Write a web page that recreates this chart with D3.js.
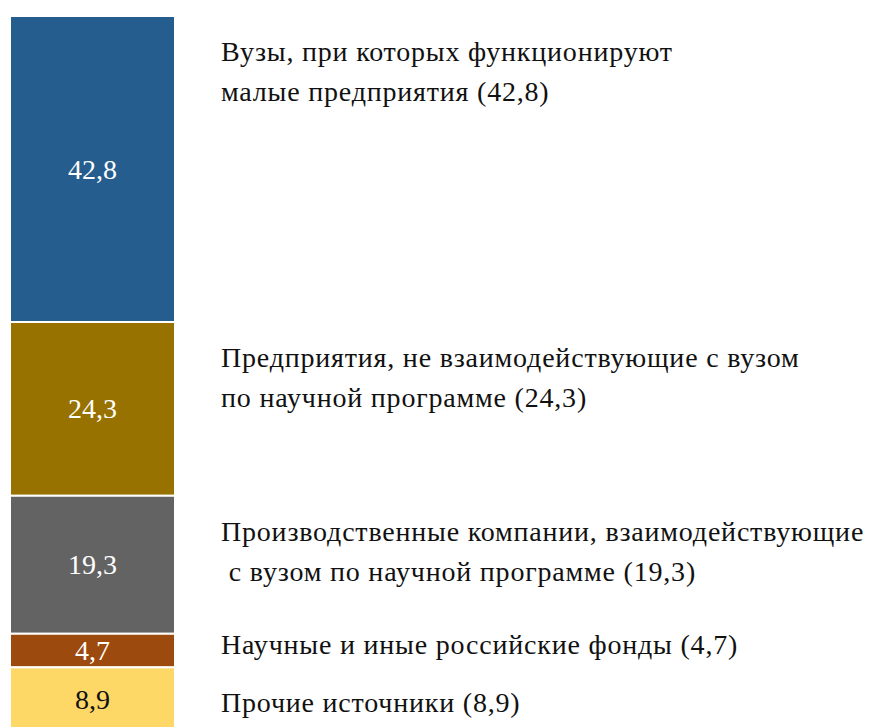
<!DOCTYPE html>
<html>
<head>
<meta charset="utf-8">
<script src="https://cdn.jsdelivr.net/npm/d3@7"></script>
<style>
    body { margin: 0; background: #fff; }
</style>
</head>
<body>
<svg id="chart" width="869" height="727"></svg>
<script>
// shares of funding sources, % (top to bottom)
let values = [42.8, 24.3, 19.3, 4.7, 8.9]
let valueLabels = ['42,8', '24,3', '19,3', '4,7', '8,9']
let names = [
    ['Вузы, при которых функционируют', 'малые предприятия (42,8)'],
    ['Предприятия, не взаимодействующие с вузом', 'по научной программе (24,3)'],
    ['Производственные компании, взаимодействующие', '\u00a0с вузом по научной программе (19,3)'],
    ['Научные и иные российские фонды (4,7)'],
    ['Прочие источники (8,9)']
]
let colors = ['#255e8e', '#977200', '#636363', '#9d4a0f', '#fdd867']
let valueColors = ['#fff', '#fff', '#fff', '#fff', '#111']

function main() {
    let svg = d3.select('#chart'),
        font = "Tinos, 'Times New Roman', FreeSerif, serif",
        bar = {left: 10, right: 175},
        labelX = 221,
        lineH = 40

    let yScale = d3.scaleLinear().domain([0, 100]).range([16, 731])

    let acc = 0
    let data = values.map((v, i) => {
        let d = {value: v, start: acc, end: acc + v, label: valueLabels[i], name: names[i],
            color: colors[i], textColor: valueColors[i]}
        acc += v
        return d
    })

    svg.selectAll('rect.seg')
        .data(data)
        .enter()
        .append('rect')
        .attr('class', 'seg')
        .attr('x', bar.left)
        .attr('width', bar.right - bar.left)
        .attr('y', d => yScale(d.start))
        .attr('height', d => yScale(d.end) - yScale(d.start))
        .attr('fill', d => d.color)
        .attr('stroke', '#fff')
        .attr('stroke-width', 2)

    svg.selectAll('text.val')
        .data(data)
        .enter()
        .append('text')
        .attr('class', 'val')
        .attr('x', (bar.left + bar.right) / 2)
        .attr('y', d => (yScale(d.start) + yScale(d.end)) / 2 + 9.5)
        .attr('text-anchor', 'middle')
        .style('font-family', font)
        .style('font-size', '28px')
        .attr('fill', d => d.textColor)
        .text(d => d.label)

    // legend text next to each segment, one text per line
    data.forEach(d => {
        let y0 = Math.min(yScale(d.start) + 45, yScale(d.end) - 13)
        d.name.forEach((line, i) => {
            svg.append('text')
                .attr('class', 'name')
                .attr('x', labelX)
                .attr('y', y0 + i * lineH)
                .style('font-family', font)
                .style('font-size', '28px')
                .style('letter-spacing', '0.8px')
                .attr('fill', '#111')
                .text(line)
        })
    })
}

main()
</script>
</body>
</html>
